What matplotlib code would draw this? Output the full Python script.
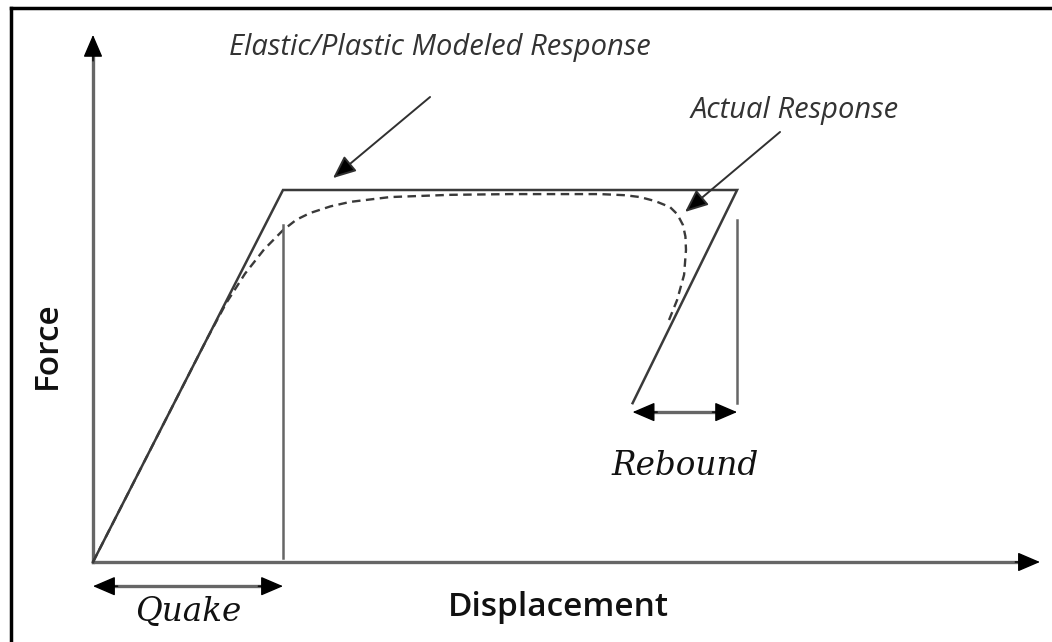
import matplotlib
matplotlib.use("Agg")
import matplotlib.pyplot as plt
from matplotlib.lines import Line2D

# units: displacement in "quake" units, force as fraction of yield force
quake = 1.0
yield_force = 1.0
max_disp = 3.39
unload_disp = 2.84
unload_force = 0.427
quake_line_top = 0.906
rebound_line_top = 0.919
x_axis_end = 4.984
y_axis_end = 1.417
quake_arrow_y = -0.065
rebound_arrow_y = 0.403

# elastic/plastic model path
model_x = [0, quake, max_disp, unload_disp]
model_y = [0, yield_force, yield_force, unload_force]

# actual response (dashed)
actual_x = [0, 0.30, 0.60, 0.70, 0.80, 0.90, 1.0, 1.07, 1.142, 1.25, 1.353,
            1.563, 1.879, 2.2, 2.405, 2.668, 2.80, 2.879, 2.96, 3.037, 3.075, 3.105,
            3.118, 3.121, 3.111, 3.074, 3.021]
actual_y = [0, 0.30, 0.60, 0.695, 0.775, 0.840, 0.892, 0.920, 0.938, 0.956, 0.968,
            0.981, 0.987, 0.989, 0.989, 0.989, 0.986, 0.981, 0.970, 0.954, 0.935, 0.906,
            0.875, 0.839, 0.772, 0.704, 0.637]

line_col = "#3a3a3a"
axis_col = "#666666"

fig = plt.figure(figsize=(10.52, 6.42), dpi=100)
ax = fig.add_axes([93 / 1052, 80 / 642, 1 - 93 / 1052, 1 - 80 / 642])
ax.set_xlim(0, 959 / 190)
ax.set_ylim(0, 562 / 372)
ax.axis("off")

head = dict(arrowstyle="-|>,head_length=1.4,head_width=0.6", color="black", lw=1,
            shrinkA=0, shrinkB=0)


def arrow_head(tip, back):
    ax.annotate("", xy=tip, xytext=back, annotation_clip=False, arrowprops=head)


# axes with arrows
ax.plot([0, x_axis_end - 0.05], [0, 0], color=axis_col, lw=2.4, clip_on=False)
ax.plot([0, 0], [0, y_axis_end - 0.03], color=axis_col, lw=2.4, clip_on=False)
arrow_head((x_axis_end, 0), (x_axis_end - 0.13, 0))
arrow_head((0, y_axis_end), (0, y_axis_end - 0.07))

ax.plot(model_x, model_y, color=line_col, lw=1.8, clip_on=False, solid_joinstyle="miter")
ax.plot(actual_x, actual_y, color=line_col, lw=1.7, ls=(0, (3.6, 2.3)), clip_on=False)

ax.plot([quake, quake], [0.01, quake_line_top], color=axis_col, lw=1.8, clip_on=False)
ax.plot([max_disp, max_disp], [unload_force, rebound_line_top], color=axis_col, lw=1.8, clip_on=False)

# quake / rebound dimension arrows
for x0, x1, yy in [(0, quake, quake_arrow_y), (unload_disp, max_disp, rebound_arrow_y)]:
    ax.plot([x0 + 0.05, x1 - 0.05], [yy, yy], color=axis_col, lw=2.4, clip_on=False)
    arrow_head((x1, yy), (x1 - 0.13, yy))
    arrow_head((x0, yy), (x0 + 0.13, yy))

# pointer arrows
ptr = dict(arrowstyle="-|>,head_length=1.4,head_width=0.6", color="#303030", lw=1.4,
           shrinkA=0, shrinkB=0, fc="black")
ax.annotate("", xy=(1.263, 1.032), xytext=(1.774, 1.25), annotation_clip=False, arrowprops=ptr)
ax.annotate("", xy=(3.116, 0.941), xytext=(3.616, 1.156), annotation_clip=False, arrowprops=ptr)

lab = dict(family="Open Sans", style="italic", color="#333333", ha="center", va="center")
ax.text(1.826, 1.382, "Elastic/Plastic Modeled Response", fontsize=21, **lab)
ax.text(3.695, 1.215, "Actual Response", fontsize=21, **lab)

dimlab = dict(family="DejaVu Serif", style="italic", color="#111111", ha="center", va="center")
ax.text(0.5, -0.134, "Quake", fontsize=23.5, **dimlab)
ax.text(3.116, 0.258, "Rebound", fontsize=23.5, **dimlab)

axlab = dict(family="Open Sans", fontweight="semibold", color="#111111", ha="center", va="center")
ax.text(2.447, -0.121, "Displacement", fontsize=24, **axlab)
ax.text(-0.242, 0.583, "Force", fontsize=24, rotation=90, **axlab)

# image frame (left and top edges)
fig.add_artist(Line2D([11 / 1052, 11 / 1052], [0, 1 - 8 / 642], color="black", lw=2.5))
fig.add_artist(Line2D([11 / 1052, 1], [1 - 8 / 642, 1 - 8 / 642], color="black", lw=2.5))

fig.savefig("out.png", dpi=100)
